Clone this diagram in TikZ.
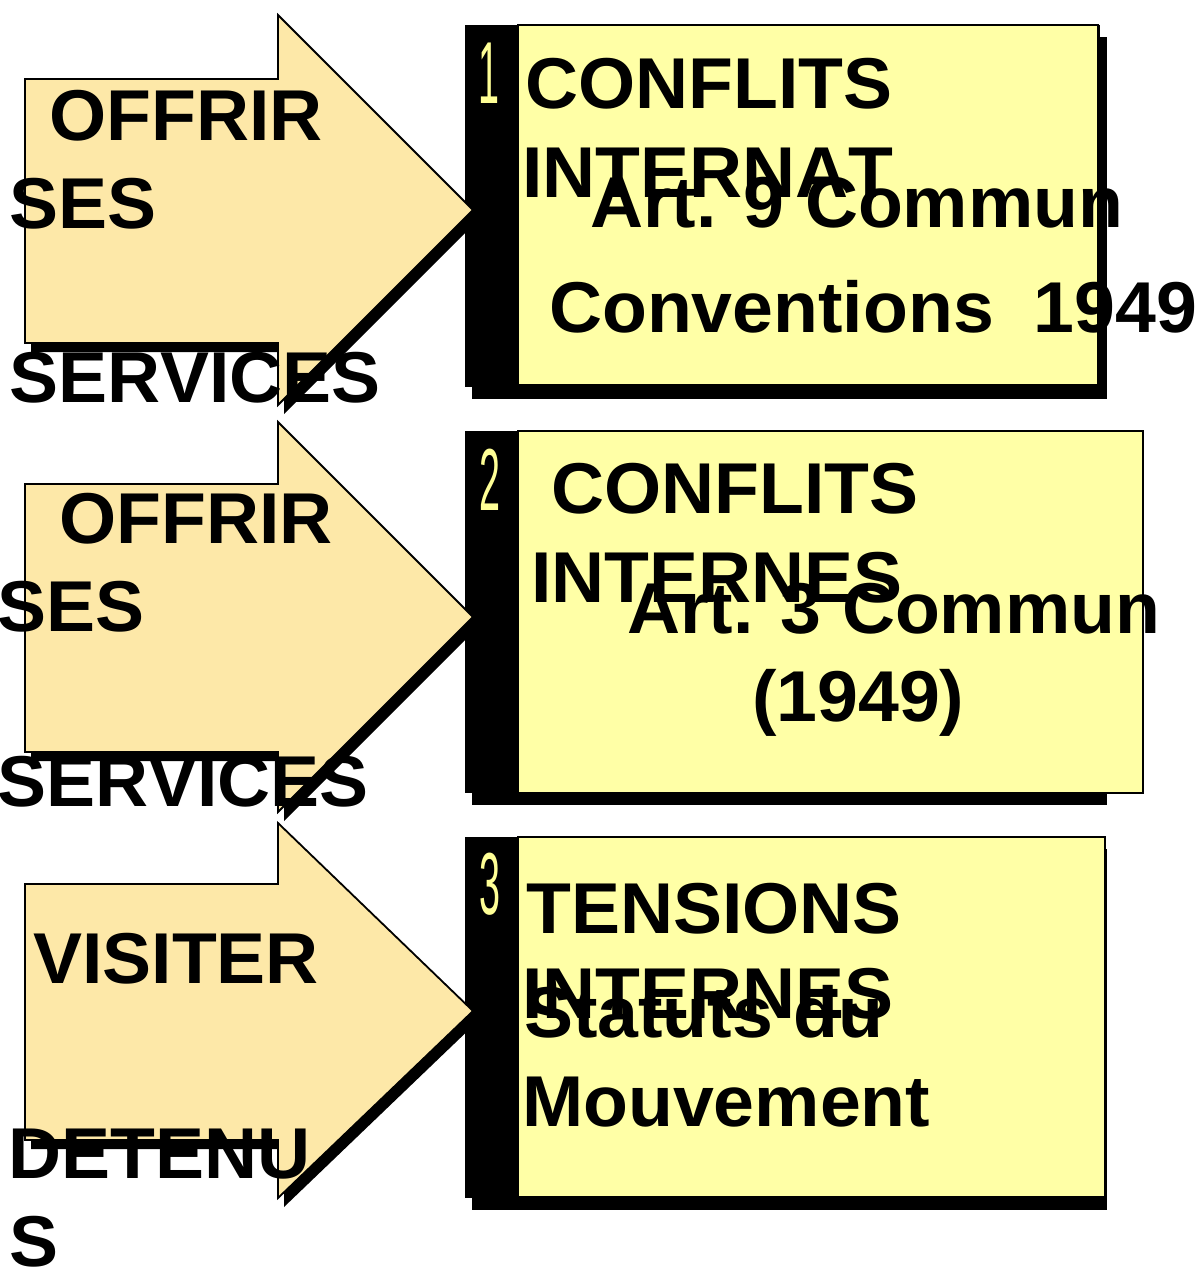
\documentclass[tikz,border=0pt]{standalone}
\usepackage{fontspec}
\setmainfont[Kerning=Off,FakeStretch=1.02]{Liberation Sans}
\definecolor{arrowfill}{RGB}{253,232,168}
\definecolor{boxfill}{RGB}{255,255,166}
\definecolor{numcol}{RGB}{255,255,150}
\begin{document}
\begin{tikzpicture}[x=1pt,y=-1pt,
  arrowshape/.style={fill=arrowfill, draw=black, line width=1.8pt, line join=miter},
  arrowshadow/.style={fill=black},
  boxbar/.style={fill=black},
  boxshadow/.style={fill=black},
  boxbody/.style={fill=boxfill, draw=black, line width=1.8pt},
  txt/.style={anchor=base west, inner sep=0pt, font=\fontsize{72}{86}\selectfont\bfseries},
  numtxt/.style={anchor=base, inner sep=0pt, text=numcol, font=\fontsize{88}{88}\selectfont}
]
\useasboundingbox (0,0) rectangle (1197,1286);

% ---------- boxes ----------
% box 1
\fill[boxshadow] (472,37) rectangle (1107,399);
\fill[boxbar] (465,25) rectangle (1100,387);
\filldraw[boxbody] (518,25) rectangle (1098,385);
% box 2
\fill[boxshadow] (472,443) rectangle (1107,805);
\fill[boxbar] (465,431) rectangle (1100,793);
\filldraw[boxbody] (518,431) rectangle (1143,793);
% box 3
\fill[boxshadow] (472,849) rectangle (1107,1210);
\fill[boxbar] (465,837) rectangle (1100,1198);
\filldraw[boxbody] (518,837) rectangle (1105,1197);

% ---------- arrows: head-top, body-top, body-bottom, tip-y, head-bottom ----------
\foreach \ht/\bt/\bb/\ty/\hb in {15/79/343/210/405, 422/484/752/617/812, 823/884/1140/1011/1198}{
  \fill[arrowshadow, shift={(6,9)}] (25,\bt) -- (278,\bt) -- (278,\ht) -- (473,\ty) -- (278,\hb) -- (278,\bb) -- (25,\bb) -- cycle;
  \filldraw[arrowshape] (25,\bt) -- (278,\bt) -- (278,\ht) -- (473,\ty) -- (278,\hb) -- (278,\bb) -- (25,\bb) -- cycle;
}

% ---------- numbers ----------
\node[numtxt] (n1) at (489,103) {\scalebox{0.42}[1]{1}};
\node[numtxt] (n2) at (490,510) {\scalebox{0.42}[1]{2}};
\node[numtxt] (n3) at (490,914) {\scalebox{0.42}[1]{3}};

% ---------- arrow texts ----------
\node[txt] (a1l1) at (49,140) {OFFRIR};
\node[txt] (a1l2) at (9,228) {SES};
\node[txt] (a1l3) at (9,402) {SERVICES};
\node[txt] (a2l1) at (59,543) {OFFRIR};
\node[txt] (a2l2) at (-3,631) {SES};
\node[txt] (a2l3) at (-3,806) {SERVICES};
\node[txt] (a3l1) at (33,983) {VISITER};
\node[txt] (a3l2) at (8,1178) {DETENU};
\node[txt] (a3l3) at (9,1266) {S};

% ---------- box texts ----------
\node[txt] (b1l1) at (525,108) {CONFLITS};
\node[txt] (b1l2) at (522,197) {INTERNAT};
\node[txt] (b1l3) at (590,227) {Art. 9 Commun};
\node[txt] (b1l4) at (549,332) {Conventions\hspace{0.556em}1949};
\node[txt] (b2l1) at (551,513) {CONFLITS};
\node[txt] (b2l2) at (531,602) {INTERNES};
\node[txt] (b2l3) at (627,633) {Art. 3 Commun};
\node[txt] (b2l4) at (752,721) {(1949)};
\node[txt] (b3l1) at (526,933) {TENSIONS};
\node[txt] (b3l2) at (522,1018) {INTERNES};
\node[txt] (b3l3) at (524,1037) {Statuts du};
\node[txt] (b3l4) at (522,1126) {Mouvement};
\end{tikzpicture}
\end{document}
